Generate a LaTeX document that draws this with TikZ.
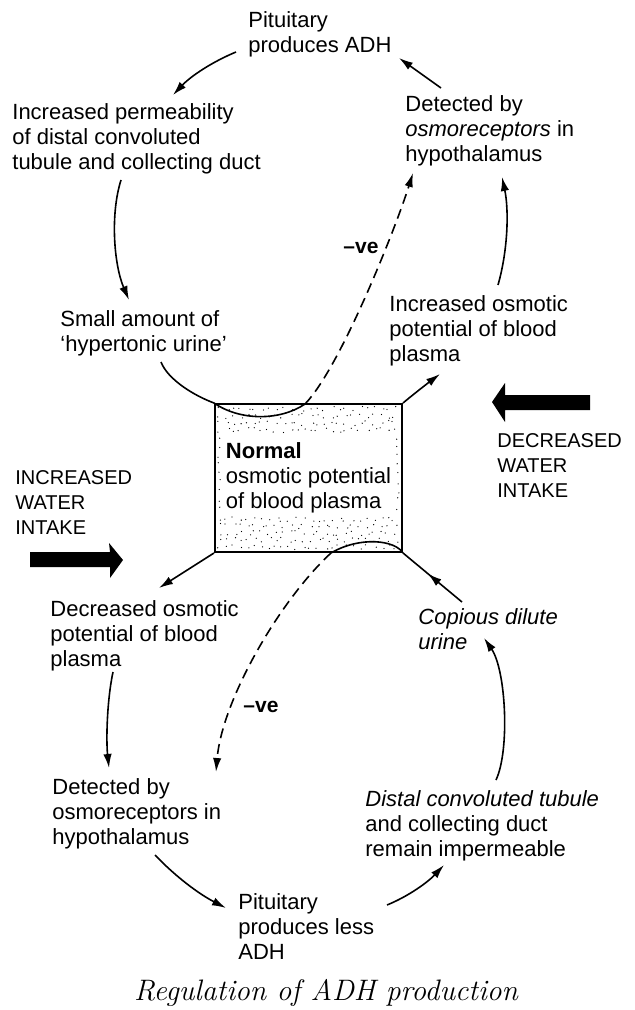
\documentclass[tikz,border=0pt]{standalone}
\usepackage{fontspec}
\setsansfont{Liberation Sans}
\usetikzlibrary{arrows.meta,backgrounds,decorations.markings}

\begin{document}
\begin{tikzpicture}[x=0.5pt,y=-0.5pt,
  font=\sffamily\fontsize{11}{12.5}\selectfont,
  txt/.style={anchor=north west,align=left,inner sep=0pt},
  caps/.style={txt,font=\sffamily\fontsize{10}{12.5}\selectfont},
  flow/.style={-{Latex[length=7pt,width=4.2pt]},line width=.8pt},
  feedback/.style={flow,dash pattern=on 5pt off 3pt},
  plain/.style={line width=.8pt},
  midarrow/.style={plain,postaction={decorate},decoration={markings,mark=at position .58 with {\arrow{Latex[length=7pt,width=4.2pt]}}}},
  neg/.style={font=\sffamily\bfseries\fontsize{10.5}{12}\selectfont,inner sep=0pt},
]
\useasboundingbox (0,0) rectangle (634,1010);

% text of the two loops
\node[txt] (pitup) at (248,11) {Pituitary\\produces ADH};
\node[txt] (perm) at (12,103) {Increased permeability\\of distal convoluted\\tubule and collecting duct};
\node[txt] (detup) at (405,95) {Detected by\\\textit{osmoreceptors} in\\hypothalamus};
\node[txt] (hyper) at (60,310) {Small amount of\\‘hypertonic urine’};
\node[txt] (incosm) at (389,295) {Increased osmotic\\potential of blood\\plasma};
\node[draw,line width=1pt,minimum width=93.5pt,minimum height=74pt,align=left,inner sep=0pt] (norm) at (308.5,478) {\textbf{Normal}\\osmotic potential\\of blood plasma};
\node[caps] (decw) at (497,433) {DECREASED\\WATER\\INTAKE};
\node[caps] (incw) at (15,470) {INCREASED\\WATER\\INTAKE};
\node[txt] (decosm) at (50,600) {Decreased osmotic\\potential of blood\\plasma};
\node[txt,font=\sffamily\itshape\fontsize{11}{12.5}\selectfont] (copious) at (418,608) {Copious dilute\\urine};
\node[txt] (detdn) at (52,778) {Detected by\\osmoreceptors in\\hypothalamus};
\node[txt] (distal) at (365,790) {\textit{Distal convoluted tubule}\\and collecting duct\\remain impermeable};
\node[txt] (pitdn) at (238,893) {Pituitary\\produces less\\ADH};
\node[font=\rmfamily\itshape\fontsize{14.8}{17}\selectfont,anchor=base] (title) at (326,1000) {Regulation of ADH production};

% stipple of the box
\begin{scope}[on background layer]
  \pgfmathsetseed{31}
  \foreach \x in {220,227,...,398}
    \foreach \y in {409,416,...,430}
      \fill ({\x+3*rand},{\y+2.5*rand}) circle (.32pt);
  \foreach \x in {220,227,...,398}
    \foreach \y in {519,526,...,547}
      \fill ({\x+3*rand},{\y+2.5*rand}) circle (.32pt);
  \foreach \y in {437,446,...,512}{
    \fill ({219+1.5*rand},{\y+3*rand}) circle (.32pt);
    \fill ({398+1.5*rand},{\y+3*rand}) circle (.32pt);
  }
\end{scope}

% connector ends
\coordinate (pitupL) at (236,52);
\coordinate (permT) at (173,95);
\coordinate (permB) at (121,180);
\coordinate (hyperT) at (129,300);
\coordinate (hyperB) at (161,362);
\coordinate (sagR) at (305,404);
\coordinate (detupB) at (413,173);
\coordinate (incosmB) at (440,374);
\coordinate (incosmT) at (498,285);
\coordinate (detupR) at (502,177);
\coordinate (detupT) at (441,88);
\coordinate (pitupR) at (399,58);
\coordinate (decosmT) at (159,588);
\coordinate (decosmB) at (113,672);
\coordinate (detdnT) at (109,768);
\coordinate (humpL) at (331,553);
\coordinate (detdnR) at (216,772);
\coordinate (detdnB) at (155,855);
\coordinate (pitdnL) at (226,908);
\coordinate (pitdnR) at (387,905);
\coordinate (distalB) at (444,865);
\coordinate (distalT) at (496,780);
\coordinate (copiousB) at (484,638);
\coordinate (copiousT) at (462,602);

% upper loop
\draw[flow] (pitupL) .. controls (212,62) and (191,76) .. (permT);
\draw[flow] (permB) .. controls (110,215) and (114,265) .. (hyperT);
\draw[plain] (hyperB) .. controls (168,380) and (195,396) .. (norm.north west)
  .. controls (240,421) and (280,421) .. (sagR);
\draw[feedback] (sagR) .. controls (340,368) and (395,230) .. (detupB);
\node[neg] (negup) at (361,248) {--ve};
\draw[flow] (norm.north east) .. controls (415,393) and (428,383) .. (incosmB);
\draw[flow] (incosmT) .. controls (508,250) and (509,210) .. (detupR);
\draw[flow] (detupT) -- (pitupR);

% lower loop
\draw[flow] (norm.south west) -- (decosmT);
\draw[flow] (decosmB) .. controls (107,700) and (106,740) .. (detdnT);
\draw[flow] (detdnB) .. controls (176,877) and (199,894) .. (pitdnL);
\draw[flow] (pitdnR) .. controls (409,896) and (428,882) .. (distalB);
\draw[flow] (distalT) .. controls (510,750) and (506,670) .. (copiousB);
\draw[midarrow] (copiousT) -- (norm.south east);
\draw[plain] (norm.south east) .. controls (395,540) and (360,536) .. (humpL);
\draw[feedback] (humpL) .. controls (280,600) and (222,700) .. (detdnR);
\node[neg] (negdn) at (261,707) {--ve};

% water intake arrows
\fill (30,552) -- (110,552) -- (109,543) -- (123,560) -- (110,578) -- (110,567) -- (30,567) -- cycle;
\fill (590,395) -- (505,395) -- (505,383) -- (492,402) -- (505,422) -- (505,410) -- (590,410) -- cycle;
\end{tikzpicture}
\end{document}
